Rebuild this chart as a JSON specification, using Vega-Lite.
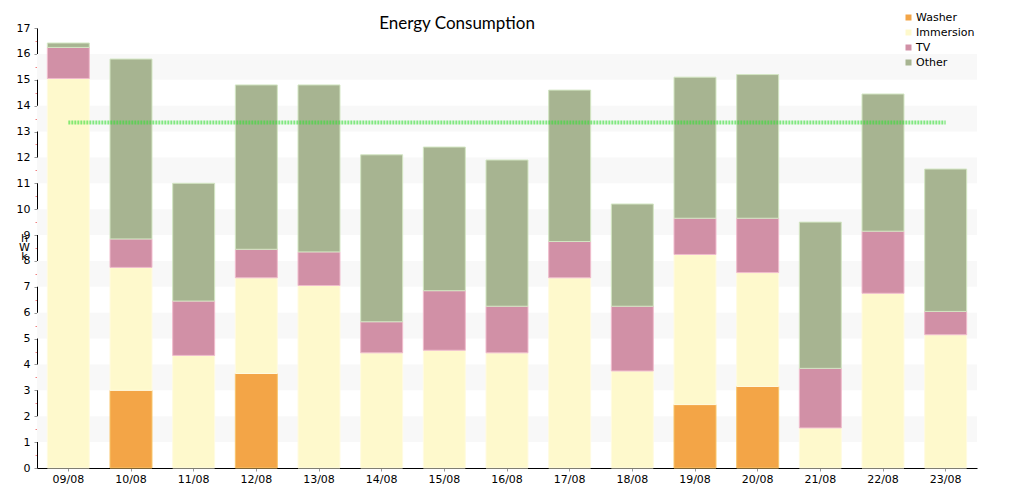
{
  "$schema": "https://vega.github.io/schema/vega-lite/v6.json",
  "width": 940,
  "height": 440,
  "autosize": {"type": "none"},
  "padding": {"left": 37, "top": 28, "right": 33, "bottom": 33},
  "background": "white",
  "title": {
    "text": "Energy Consumption",
    "font": "Lato",
    "fontSize": 17,
    "fontWeight": "normal",
    "color": "#000000",
    "anchor": "middle",
    "frame": "group",
    "dx": -50,
    "dy": 34,
    "offset": 0,
    "baseline": "alphabetic"
  },
  "datasets": {
    "energy": [
      {"d": "09/08", "type": "Immersion", "v": 15.05},
      {"d": "09/08", "type": "TV", "v": 1.2},
      {"d": "09/08", "type": "Other", "v": 0.17},
      {"d": "10/08", "type": "Washer", "v": 3.0},
      {"d": "10/08", "type": "Immersion", "v": 4.75},
      {"d": "10/08", "type": "TV", "v": 1.1},
      {"d": "10/08", "type": "Other", "v": 6.95},
      {"d": "11/08", "type": "Immersion", "v": 4.35},
      {"d": "11/08", "type": "TV", "v": 2.1},
      {"d": "11/08", "type": "Other", "v": 4.55},
      {"d": "12/08", "type": "Washer", "v": 3.65},
      {"d": "12/08", "type": "Immersion", "v": 3.7},
      {"d": "12/08", "type": "TV", "v": 1.1},
      {"d": "12/08", "type": "Other", "v": 6.35},
      {"d": "13/08", "type": "Immersion", "v": 7.05},
      {"d": "13/08", "type": "TV", "v": 1.3},
      {"d": "13/08", "type": "Other", "v": 6.45},
      {"d": "14/08", "type": "Immersion", "v": 4.45},
      {"d": "14/08", "type": "TV", "v": 1.2},
      {"d": "14/08", "type": "Other", "v": 6.45},
      {"d": "15/08", "type": "Immersion", "v": 4.55},
      {"d": "15/08", "type": "TV", "v": 2.3},
      {"d": "15/08", "type": "Other", "v": 5.55},
      {"d": "16/08", "type": "Immersion", "v": 4.45},
      {"d": "16/08", "type": "TV", "v": 1.8},
      {"d": "16/08", "type": "Other", "v": 5.65},
      {"d": "17/08", "type": "Immersion", "v": 7.35},
      {"d": "17/08", "type": "TV", "v": 1.4},
      {"d": "17/08", "type": "Other", "v": 5.85},
      {"d": "18/08", "type": "Immersion", "v": 3.75},
      {"d": "18/08", "type": "TV", "v": 2.5},
      {"d": "18/08", "type": "Other", "v": 3.95},
      {"d": "19/08", "type": "Washer", "v": 2.45},
      {"d": "19/08", "type": "Immersion", "v": 5.8},
      {"d": "19/08", "type": "TV", "v": 1.4},
      {"d": "19/08", "type": "Other", "v": 5.45},
      {"d": "20/08", "type": "Washer", "v": 3.15},
      {"d": "20/08", "type": "Immersion", "v": 4.4},
      {"d": "20/08", "type": "TV", "v": 2.1},
      {"d": "20/08", "type": "Other", "v": 5.55},
      {"d": "21/08", "type": "Immersion", "v": 1.55},
      {"d": "21/08", "type": "TV", "v": 2.3},
      {"d": "21/08", "type": "Other", "v": 5.65},
      {"d": "22/08", "type": "Immersion", "v": 6.75},
      {"d": "22/08", "type": "TV", "v": 2.4},
      {"d": "22/08", "type": "Other", "v": 5.3},
      {"d": "23/08", "type": "Immersion", "v": 5.15},
      {"d": "23/08", "type": "TV", "v": 0.9},
      {"d": "23/08", "type": "Other", "v": 5.5}
    ],
    "types": [
      {"type": "Washer", "rank": 1},
      {"type": "Immersion", "rank": 2},
      {"type": "TV", "rank": 3},
      {"type": "Other", "rank": 4}
    ],
    "bands": [
      {"lo": 1, "hi": 2},
      {"lo": 3, "hi": 4},
      {"lo": 5, "hi": 6},
      {"lo": 7, "hi": 8},
      {"lo": 9, "hi": 10},
      {"lo": 11, "hi": 12},
      {"lo": 13, "hi": 14},
      {"lo": 15, "hi": 16}
    ]
  },
  "resolve": {"scale": {"y": "independent"}, "axis": {"y": "independent"}},
  "layer": [
    {
      "data": {"name": "bands"},
      "mark": {"type": "rect", "color": "#f8f8f8"},
      "encoding": {
        "y": {"field": "lo", "type": "quantitative", "scale": {"domain": [0, 17], "nice": false, "zero": true}, "axis": null},
        "y2": {"field": "hi"}
      }
    },
    {
      "data": {"name": "energy"},
      "transform": [
        {"lookup": "type", "from": {"data": {"name": "types"}, "key": "type", "fields": ["rank"]}}
      ],
      "mark": {"type": "bar", "strokeWidth": 1},
      "encoding": {
        "x": {
          "field": "d",
          "type": "nominal",
          "sort": null,
          "scale": {"paddingInner": 0.33, "paddingOuter": 0.165},
          "axis": {
            "title": null,
            "labelAngle": 0,
            "labelFont": "DejaVu Sans",
            "labelFontSize": 11,
            "labelColor": "#000000",
            "labelPadding": 2,
            "tickColor": "#999999",
            "tickSize": 3,
            "domainColor": "#000000",
            "grid": false
          }
        },
        "y": {
          "field": "v",
          "type": "quantitative",
          "stack": "zero",
          "scale": {"domain": [0, 17], "nice": false},
          "axis": {
            "orient": "left",
            "values": [0, 0.5, 1, 1.5, 2, 2.5, 3, 3.5, 4, 4.5, 5, 5.5, 6, 6.5, 7, 7.5, 8, 8.5, 9, 9.5, 10, 10.5, 11, 11.5, 12, 12.5, 13, 13.5, 14, 14.5, 15, 15.5, 16, 16.5, 17],
            "labelExpr": "datum.value % 1 === 0 ? format(datum.value, 'd') : ''",
            "tickColor": {"condition": {"test": "datum.value % 1 !== 0", "value": "#f08080"}, "value": "#999999"},
            "tickSize": {"condition": {"test": "datum.value % 1 !== 0", "value": 2}, "value": 3},
            "grid": false,
            "domainColor": "#000000",
            "labelFont": "DejaVu Sans",
            "labelFontSize": 11,
            "labelColor": "#000000",
            "labelPadding": 4,
            "labelOverlap": false,
            "labelFlush": false,
            "title": ["h", "W", "k"],
            "titleAngle": 0,
            "titleFont": "DejaVu Sans",
            "titleFontSize": 11,
            "titleFontWeight": "normal",
            "titleColor": "#000000",
            "titleLineHeight": 9,
            "titleX": -13,
            "titleY": 204,
            "titleAlign": "center",
            "titleBaseline": "top"
          }
        },
        "order": {"field": "rank", "type": "quantitative", "sort": "ascending"},
        "fill": {
          "field": "type",
          "type": "nominal",
          "scale": {"domain": ["Washer", "Immersion", "TV", "Other"], "range": ["#f3a547", "#fef9cc", "#d190a6", "#a7b491"]},
          "legend": {
            "title": null,
            "orient": "none",
            "legendX": 866,
            "legendY": -16,
            "symbolType": "square",
            "symbolSize": 36,
            "symbolStrokeWidth": 0,
            "labelFont": "DejaVu Sans",
            "labelFontSize": 11,
            "labelColor": "#000000",
            "labelOffset": 2,
            "rowPadding": 3,
            "padding": 0
          }
        },
        "stroke": {
          "field": "type",
          "type": "nominal",
          "scale": {"domain": ["Washer", "Immersion", "TV", "Other"], "range": ["#f8c56a", "#fffbe2", "#f0bccd", "#d3e6c3"]},
          "legend": null
        }
      }
    },
    {
      "data": {"name": "energy"},
      "mark": {"type": "line", "stroke": "#33dd33", "opacity": 0.6, "strokeWidth": 4, "strokeDash": [2, 1]},
      "encoding": {
        "x": {"field": "d", "type": "nominal", "sort": null},
        "y": {"datum": 13.35, "type": "quantitative", "scale": {"domain": [0, 17], "nice": false}, "axis": null}
      }
    }
  ],
  "config": {
    "view": {"stroke": null}
  }
}
